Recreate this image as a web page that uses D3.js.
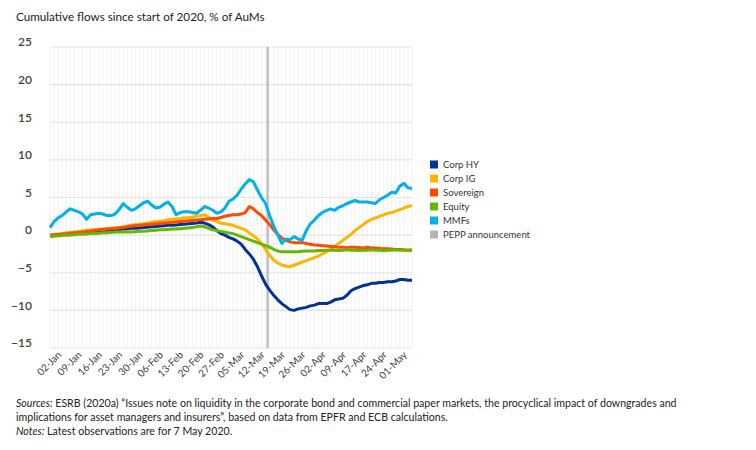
<!DOCTYPE html>
<html>
<head>
<meta charset="utf-8">
<script src="https://cdn.jsdelivr.net/npm/d3@7"></script>
<style>
    body { margin: 0; background: #fff; }
    text { font-family: Lato, "Open Sans", sans-serif; }
</style>
</head>
<body>
<div id="flows_vis"></div>
<script>
// business days in the sample (Good Friday missing)
let dates = [
    "02-Jan","03-Jan","06-Jan","07-Jan","08-Jan","09-Jan","10-Jan","13-Jan","14-Jan","15-Jan","16-Jan",
    "17-Jan","20-Jan","21-Jan","22-Jan","23-Jan","24-Jan","27-Jan","28-Jan","29-Jan","30-Jan","31-Jan",
    "03-Feb","04-Feb","05-Feb","06-Feb","07-Feb","10-Feb","11-Feb","12-Feb","13-Feb","14-Feb","17-Feb",
    "18-Feb","19-Feb","20-Feb","21-Feb","24-Feb","25-Feb","26-Feb","27-Feb","28-Feb",
    "02-Mar","03-Mar","04-Mar","05-Mar","06-Mar","09-Mar","10-Mar","11-Mar","12-Mar","13-Mar","16-Mar",
    "17-Mar","18-Mar","19-Mar","20-Mar","23-Mar","24-Mar","25-Mar","26-Mar","27-Mar","30-Mar","31-Mar",
    "01-Apr","02-Apr","03-Apr","06-Apr","07-Apr","08-Apr","09-Apr","13-Apr","14-Apr","15-Apr","16-Apr",
    "17-Apr","20-Apr","21-Apr","22-Apr","23-Apr","24-Apr","27-Apr","28-Apr","29-Apr","30-Apr",
    "01-May","04-May","05-May","06-May","07-May"
];

let tickLabels = ["02-Jan","09-Jan","16-Jan","23-Jan","30-Jan","06-Feb","13-Feb","20-Feb","27-Feb",
    "05-Mar","12-Mar","19-Mar","26-Mar","02-Apr","09-Apr","17-Apr","24-Apr","01-May"];

let yTicks = [25, 20, 15, 10, 5, 0, -5, -10, -15];

// announcement fell between these two observations
let peppBetween = ["17-Mar", "18-Mar"];

let corpHY = [
    -0.1,0.0,0.05,0.1,0.15,0.2,0.25,0.3,0.3,0.35,0.4,0.45,0.5,0.55,0.6,0.65,0.7,0.75,0.8,0.85,
    0.9,0.9,0.95,1.0,1.05,1.1,1.15,1.2,1.25,1.3,1.3,1.35,1.4,1.45,1.5,1.55,1.6,1.7,1.6,1.4,
    1.1,0.6,0.2,0.0,-0.3,-0.5,-0.8,-1.2,-1.9,-2.5,-3.2,-4.2,-5.4,-6.5,-7.3,-8.0,-8.6,-9.1,-9.5,-9.9,
    -10.0,-9.8,-9.7,-9.6,-9.4,-9.3,-9.1,-9.1,-9.1,-8.9,-8.6,-8.5,-8.4,-8.0,-7.4,-7.1,-6.9,-6.7,-6.6,-6.4,
    -6.4,-6.3,-6.3,-6.2,-6.2,-6.1,-5.9,-5.9,-6.0,-6.0
];

let corpIG = [
    0.0,0.1,0.15,0.2,0.3,0.35,0.4,0.5,0.55,0.6,0.65,0.7,0.75,0.8,0.85,0.9,0.95,1.0,1.1,1.2,
    1.3,1.4,1.45,1.5,1.6,1.7,1.8,1.85,1.9,2.0,2.1,2.15,2.2,2.3,2.3,2.4,2.5,2.6,2.7,2.4,
    2.0,1.8,1.6,1.5,1.4,1.3,1.1,0.9,0.7,0.3,-0.1,-0.5,-1.1,-1.9,-2.7,-3.3,-3.7,-4.0,-4.1,-4.2,
    -4.0,-3.8,-3.6,-3.4,-3.2,-3.0,-2.8,-2.5,-2.2,-1.9,-1.5,-1.1,-0.7,-0.3,0.1,0.6,1.0,1.4,1.8,2.1,
    2.3,2.5,2.7,2.9,3.0,3.2,3.4,3.6,3.8,3.9
];

let sovereign = [
    0.0,0.05,0.1,0.15,0.2,0.25,0.3,0.35,0.4,0.5,0.55,0.65,0.7,0.75,0.8,0.85,0.9,0.95,1.0,1.1,
    1.2,1.25,1.3,1.35,1.4,1.45,1.5,1.55,1.6,1.65,1.7,1.75,1.8,1.85,1.9,1.95,2.0,2.05,2.1,2.15,
    2.2,2.2,2.35,2.5,2.6,2.7,2.7,2.8,3.0,3.8,3.5,3.0,2.6,2.0,1.4,0.7,0.1,-0.4,-0.7,-0.9,
    -1.0,-1.0,-1.0,-1.1,-1.2,-1.3,-1.35,-1.4,-1.45,-1.5,-1.55,-1.6,-1.6,-1.65,-1.6,-1.6,-1.65,-1.7,-1.6,-1.7,
    -1.7,-1.75,-1.8,-1.8,-1.85,-1.9,-1.9,-1.95,-2.0,-2.0
];

let equity = [
    -0.2,-0.15,-0.1,-0.05,0.0,0.0,0.05,0.1,0.1,0.15,0.2,0.2,0.25,0.3,0.3,0.35,0.4,0.4,0.45,0.4,
    0.4,0.45,0.5,0.5,0.55,0.6,0.65,0.7,0.7,0.75,0.8,0.8,0.85,0.9,0.95,1.0,1.1,1.2,1.1,0.9,
    0.7,0.6,0.5,0.4,0.3,0.2,0.0,-0.2,-0.4,-0.6,-0.8,-1.0,-1.2,-1.4,-1.6,-1.9,-2.1,-2.2,-2.2,-2.2,
    -2.2,-2.2,-2.15,-2.1,-2.1,-2.1,-2.05,-2.05,-2.0,-2.0,-2.0,-2.05,-2.0,-1.95,-2.0,-2.0,-2.05,-2.0,-2.0,-1.95,
    -2.0,-2.0,-2.05,-2.0,-2.0,-1.95,-2.0,-2.0,-2.0,-1.95
];

let mmfs = [
    1.0,1.8,2.3,2.6,3.1,3.5,3.3,3.1,2.8,2.1,2.7,2.8,2.9,2.8,2.6,2.6,2.8,3.4,4.2,3.7,
    3.3,3.5,3.9,4.3,4.5,4.0,3.6,3.7,4.1,4.4,3.8,2.7,3.0,3.1,3.1,3.0,2.9,3.3,3.8,3.6,
    3.3,2.9,3.1,3.6,4.5,4.8,5.3,6.1,6.8,7.4,7.1,6.0,5.0,4.2,2.6,1.2,0.0,-1.1,-0.5,-0.6,
    -0.2,-0.5,-0.7,0.6,1.5,2.0,2.6,3.0,3.3,3.5,3.3,3.7,3.9,4.2,4.4,4.6,4.4,4.4,4.4,4.3,
    4.2,4.7,5.0,5.3,5.7,5.6,6.5,6.9,6.3,6.2
];

let seriesNames = ["Corp HY", "Corp IG", "Sovereign", "Equity", "MMFs"];
let seriesValues = [corpHY, corpIG, sovereign, equity, mmfs];
let seriesColors = ["#003299", "#ffb400", "#ff4b00", "#65b800", "#00b1ea"];
let peppColor = "#b4b4b4";

// plot window
let margin = { top: 47, right: 344, bottom: 102, left: 50 },
    fullWidth = 756,
    fullHeight = 450,
    width = fullWidth - margin.left - margin.right,
    height = fullHeight - margin.top - margin.bottom;

let svg = d3.select("#flows_vis")
    .append("svg")
    .attr("width", fullWidth)
    .attr("height", fullHeight);

let x = d3.scalePoint()
    .domain(dates)
    .range([margin.left, margin.left + width]);
let y = d3.scaleLinear()
    .domain([-15, 25])
    .range([margin.top + height, margin.top]);

// faint daily gridlines
svg.append("g")
    .selectAll("line")
    .data(dates)
    .enter()
    .append("line")
    .attr("x1", function(d) { return x(d); })
    .attr("x2", function(d) { return x(d); })
    .attr("y1", margin.top)
    .attr("y2", margin.top + height)
    .style("stroke", "#f1f1f1")
    .style("stroke-width", "1px");

// horizontal gridlines
svg.append("g")
    .selectAll("line")
    .data(yTicks)
    .enter()
    .append("line")
    .attr("x1", margin.left)
    .attr("x2", margin.left + width)
    .attr("y1", function(d) { return y(d); })
    .attr("y2", function(d) { return y(d); })
    .style("stroke", "#e3e3e3")
    .style("stroke-width", "1.2px");

// y axis labels
let yAxis = svg.append("g")
    .attr("transform", "translate(" + (margin.left - 18) + ",-5)")
    .call(d3.axisLeft(y).tickValues(yTicks).tickSize(0).tickPadding(0));
yAxis.select(".domain").remove();
yAxis.selectAll("text")
    .style("font-family", "Lato, sans-serif")
    .style("font-size", "12px")
    .style("font-weight", "600")
    .style("fill", "#444");

// x axis labels, rotated
let xAxis = svg.append("g")
    .attr("transform", "translate(0," + (margin.top + height) + ")")
    .call(d3.axisBottom(x).tickValues(tickLabels).tickSize(0).tickPadding(0));
xAxis.select(".domain").remove();
xAxis.selectAll("text")
    .attr("text-anchor", "end")
    .attr("transform", "translate(9,5) rotate(-45)")
    .attr("dy", "0.35em")
    .style("font-family", "Lato, sans-serif")
    .style("font-size", "10px")
    .style("fill", "#404040");

// PEPP announcement marker
let peppX = (x(peppBetween[0]) + x(peppBetween[1])) / 2;
svg.append("line")
    .attr("x1", peppX)
    .attr("x2", peppX)
    .attr("y1", margin.top)
    .attr("y2", margin.top + height)
    .style("stroke", peppColor)
    .style("stroke-width", "2px");

// series lines
let line = d3.line()
    .x(function(d, i) { return x(dates[i]); })
    .y(function(d) { return y(d); });

seriesValues.forEach(function(values, k) {
    svg.append("path")
        .datum(values)
        .attr("d", line)
        .style("fill", "none")
        .style("stroke", seriesColors[k])
        .style("stroke-width", "3px")
        .style("stroke-linejoin", "round");
});

// legend
let legendNames = seriesNames.concat(["PEPP announcement"]);
let legendColors = seriesColors.concat([peppColor]);
let legend = svg.append("g")
    .selectAll("g")
    .data(legendNames)
    .enter()
    .append("g")
    .attr("transform", function(d, i) { return "translate(430," + (160.5 + i * 14) + ")"; });
legend.append("rect")
    .attr("width", 8)
    .attr("height", 8)
    .style("fill", function(d, i) { return legendColors[i]; });
legend.append("text")
    .attr("x", 13)
    .attr("y", 7.5)
    .style("font-size", "9.5px")
    .style("fill", "#333")
    .text(function(d) { return d; });

// title
svg.append("text")
    .attr("x", 16)
    .attr("y", 21)
    .style("font-size", "11.7px")
    .style("fill", "#222")
    .text("Cumulative flows since start of 2020, % of AuMs");

// sources and notes
let notes = svg.append("g")
    .style("font-size", "10.6px")
    .style("fill", "#222");
let l1 = notes.append("text").attr("x", 16).attr("y", 407);
l1.append("tspan").style("font-style", "italic").text("Sources:");
l1.append("tspan").text(" ESRB (2020a) \u201cIssues note on liquidity in the corporate bond and commercial paper markets, the procyclical impact of downgrades and");
notes.append("text").attr("x", 16).attr("y", 421)
    .text("implications for asset managers and insurers\u201d, based on data from EPFR and ECB calculations.");
let l3 = notes.append("text").attr("x", 16).attr("y", 435);
l3.append("tspan").style("font-style", "italic").text("Notes:");
l3.append("tspan").text(" Latest observations are for 7 May 2020.");
</script>
</body>
</html>
